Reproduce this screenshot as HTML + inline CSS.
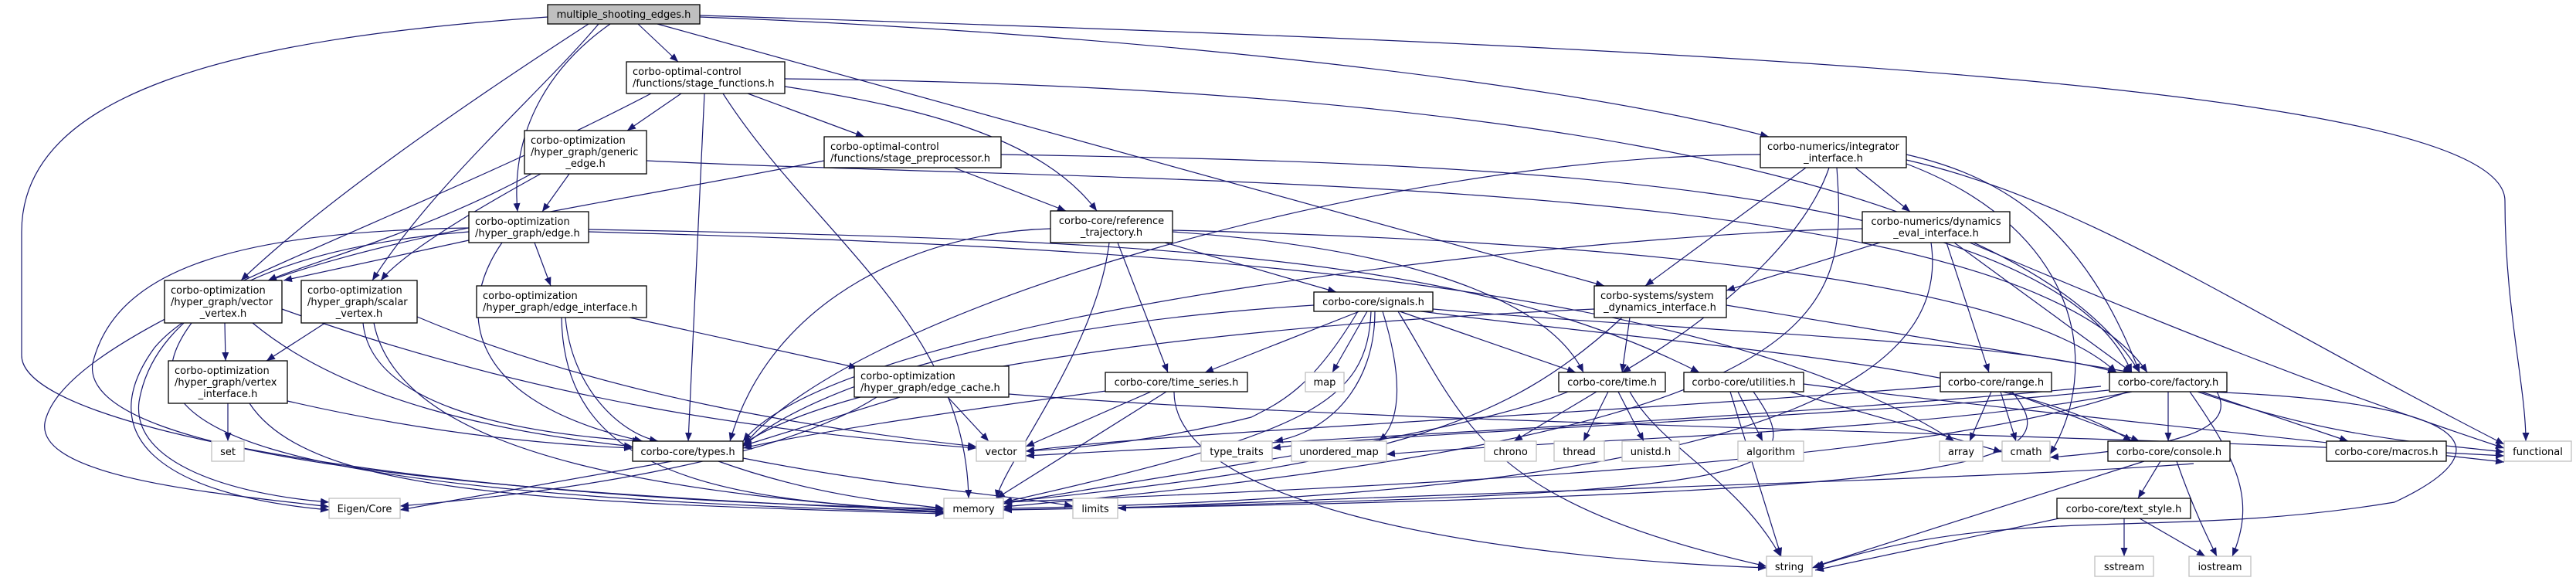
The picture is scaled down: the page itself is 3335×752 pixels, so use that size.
<!DOCTYPE html>
<html><head><meta charset="utf-8"><style>
html,body{margin:0;padding:0;background:#fff;}
svg{display:block;}
text{font-family:"DejaVu Sans","Liberation Sans",sans-serif;font-size:13px;fill:#000;}
.e{fill:none;stroke:#191970;stroke-width:1.2;marker-end:url(#a);}
.n{fill:#fff;stroke:#000;stroke-width:1.3;}
.s{fill:#fff;stroke:#bfbfbf;stroke-width:1.3;}
</style></head><body>
<svg width="3335" height="752" viewBox="0 0 3335 752" xmlns="http://www.w3.org/2000/svg">
<defs><marker id="a" markerUnits="userSpaceOnUse" markerWidth="12" markerHeight="10" refX="11" refY="4.5" orient="auto"><path d="M0,0 L11,4.5 L0,9 z" fill="#191970"/></marker></defs>
<g>
<path class="e" d="M826,31 L878,80"/>
<path class="e" d="M790,31 C720,80 660,160 670,274"/>
<path class="e" d="M762,31 C640,110 430,250 312,363"/>
<path class="e" d="M775,31 C700,120 560,240 482,363"/>
<path class="e" d="M709,22 C300,50 28,120 28,300 L28,460 C28,560 600,650 1222,658"/>
<path class="e" d="M851,31 L2077,370"/>
<path class="e" d="M906,22 C1400,40 2000,100 2290,177"/>
<path class="e" d="M906,20 C2200,60 3243,110 3243,260 C3243,400 3270,500 3270,571"/>
<path class="e" d="M882,121 L812,169"/>
<path class="e" d="M968,121 L1119,177"/>
<path class="e" d="M1016,112 C1200,140 1350,180 1420,273"/>
<path class="e" d="M912,121 L891,571"/>
<path class="e" d="M936,121 C1050,300 1250,420 1254,645"/>
<path class="e" d="M843,121 C500,300 100,420 60,540 C30,620 300,640 426,656"/>
<path class="e" d="M1016,102 C1800,110 2600,200 2770,482"/>
<path class="e" d="M737,225 L702,274"/>
<path class="e" d="M688,225 C550,300 400,340 347,363"/>
<path class="e" d="M700,225 C600,280 520,330 493,363"/>
<path class="e" d="M837,208 C1500,240 2600,220 2780,482"/>
<path class="e" d="M1235,217 L1380,273"/>
<path class="e" d="M1067,208 C700,280 300,330 200,450 C120,560 200,640 426,660"/>
<path class="e" d="M1296,200 C1900,210 2650,230 2760,482"/>
<path class="e" d="M692,314 L713,370"/>
<path class="e" d="M607,311 L367,363"/>
<path class="e" d="M607,295 C300,300 150,350 120,470 C100,600 700,640 1222,662"/>
<path class="e" d="M607,300 C350,320 200,400 180,520 C170,600 300,640 426,650"/>
<path class="e" d="M650,314 C590,400 600,520 832,571"/>
<path class="e" d="M762,297 C1500,310 1900,330 2200,482"/>
<path class="e" d="M762,300 C1500,320 2200,360 2530,571"/>
<path class="e" d="M291,418 L292,467"/>
<path class="e" d="M327,418 C450,520 650,560 819,578"/>
<path class="e" d="M248,418 C150,550 300,640 1222,663"/>
<path class="e" d="M365,400 C700,520 1000,560 1264,580"/>
<path class="e" d="M421,418 L345,467"/>
<path class="e" d="M470,418 C480,520 650,560 830,571"/>
<path class="e" d="M484,418 C520,600 900,640 1222,664"/>
<path class="e" d="M540,410 C800,520 1100,560 1264,578"/>
<path class="e" d="M295,522 L295,571"/>
<path class="e" d="M372,519 C550,560 700,575 819,580"/>
<path class="e" d="M323,522 C400,640 700,650 1222,665"/>
<path class="e" d="M732,411 C740,500 800,560 852,571"/>
<path class="e" d="M727,411 C730,600 900,650 1222,660"/>
<path class="e" d="M815,411 L1110,476"/>
<path class="e" d="M1165,514 L962,577"/>
<path class="e" d="M1227,514 L1280,571"/>
<path class="e" d="M1135,514 C1000,600 700,640 518,655"/>
<path class="e" d="M1306,510 C1800,550 2700,560 3242,590"/>
<path class="e" d="M1360,296 C1200,300 1000,380 945,571"/>
<path class="e" d="M1447,314 L1512,482"/>
<path class="e" d="M1436,314 C1420,450 1300,600 1290,645"/>
<path class="e" d="M1508,314 L1730,378"/>
<path class="e" d="M1518,300 C1800,320 2000,380 2050,482"/>
<path class="e" d="M1518,298 C2000,310 2600,350 2740,482"/>
<path class="e" d="M1760,403 L1560,482"/>
<path class="e" d="M1770,403 L1725,482"/>
<path class="e" d="M1758,403 C1700,500 1660,520 1620,540 C1500,570 1400,580 1328,584"/>
<path class="e" d="M1780,403 C1780,500 1720,560 1650,571"/>
<path class="e" d="M1790,403 C1820,500 1810,550 1785,571"/>
<path class="e" d="M1775,403 C1770,520 1700,560 1299,650"/>
<path class="e" d="M1810,403 C1900,550 1920,650 2287,733"/>
<path class="e" d="M1812,403 L2040,482"/>
<path class="e" d="M1701,395 C1300,420 1050,500 962,578"/>
<path class="e" d="M1855,400 C2200,430 2600,440 2740,482"/>
<path class="e" d="M1840,403 C2200,450 2600,470 2760,571"/>
<path class="e" d="M1490,507 L1328,578"/>
<path class="e" d="M1510,507 L1290,645"/>
<path class="e" d="M1440,505 C1250,530 1050,560 962,580"/>
<path class="e" d="M1520,507 C1520,650 1900,720 2287,735"/>
<path class="e" d="M2067,507 L1960,571"/>
<path class="e" d="M2082,507 L2050,571"/>
<path class="e" d="M2095,507 L2128,571"/>
<path class="e" d="M2110,507 C2150,580 2250,620 2305,720"/>
<path class="e" d="M2030,507 C1900,560 1600,600 1299,652"/>
<path class="e" d="M2110,411 L2100,482"/>
<path class="e" d="M2100,411 C1950,550 1800,600 1299,650"/>
<path class="e" d="M2235,395 L2760,482"/>
<path class="e" d="M2064,400 C1600,420 1100,480 962,575"/>
<path class="e" d="M2250,507 L2282,571"/>
<path class="e" d="M2270,507 C2350,620 2300,640 1299,660"/>
<path class="e" d="M2240,507 L2306,720"/>
<path class="e" d="M2310,505 L2592,585"/>
<path class="e" d="M2335,497 C2600,530 2900,560 3242,598"/>
<path class="e" d="M2402,217 L2473,274"/>
<path class="e" d="M2338,217 L2130,370"/>
<path class="e" d="M2368,217 C2340,300 2240,400 2100,482"/>
<path class="e" d="M2378,217 C2390,400 2400,560 1299,656"/>
<path class="e" d="M2279,200 C1800,200 1100,400 962,578"/>
<path class="e" d="M2468,200 C2600,230 2700,300 2770,482"/>
<path class="e" d="M2468,207 C2700,260 2900,400 3242,575"/>
<path class="e" d="M2468,212 C2700,300 2720,480 2654,588"/>
<path class="e" d="M2434,314 L2235,376"/>
<path class="e" d="M2520,314 L2575,482"/>
<path class="e" d="M2530,314 L2760,482"/>
<path class="e" d="M2550,314 C2800,420 3000,500 3242,580"/>
<path class="e" d="M2500,314 C2520,450 2400,640 1299,658"/>
<path class="e" d="M2411,296 C2100,300 1100,400 962,571"/>
<path class="e" d="M2578,507 L2550,571"/>
<path class="e" d="M2590,507 L2610,571"/>
<path class="e" d="M2600,507 L2770,571"/>
<path class="e" d="M2605,507 C2680,600 2600,640 1299,660"/>
<path class="e" d="M2512,500 C2000,540 1500,560 1328,584"/>
<path class="e" d="M2807,507 L2807,571"/>
<path class="e" d="M2850,507 L3040,571"/>
<path class="e" d="M2845,507 C3000,560 3100,570 3242,585"/>
<path class="e" d="M2835,507 C2900,600 2920,650 2890,720"/>
<path class="e" d="M2855,507 C3200,520 3250,580 3100,650 C2800,700 2600,650 2346,735"/>
<path class="e" d="M2755,507 C2500,600 1800,630 1299,650"/>
<path class="e" d="M2760,507 C2500,560 2000,570 1795,588"/>
<path class="e" d="M2730,505 C2400,540 1800,560 1647,580"/>
<path class="e" d="M2720,500 C2300,540 1700,570 1328,590"/>
<path class="e" d="M2870,507 C2900,560 2800,580 2654,592"/>
<path class="e" d="M2776,597 L2350,733"/>
<path class="e" d="M2797,597 L2768,645"/>
<path class="e" d="M2818,597 C2840,660 2860,700 2870,720"/>
<path class="e" d="M2750,671 L2750,720"/>
<path class="e" d="M2770,671 L2855,720"/>
<path class="e" d="M2680,668 L2350,738"/>
<path class="e" d="M870,597 L518,660"/>
<path class="e" d="M930,597 C1050,640 1150,650 1222,658"/>
<path class="e" d="M962,593 C1150,630 1300,640 1389,655"/>
<path class="e" d="M2840,600 C2600,620 1800,640 1447,658"/>
</g>
<g>
<rect x="709" y="6" width="197" height="25" fill="#bfbfbf" stroke="#000" stroke-width="1.3"/>
<text x="807.5" y="23" text-anchor="middle">multiple_shooting_edges.h</text>

<rect class="n" x="811" y="80" width="205" height="41"/>
<text x="819" y="97">corbo-optimal-control</text><text x="819" y="112">/functions/stage_functions.h</text>

<rect class="n" x="679" y="169" width="158" height="56"/>
<text x="687" y="186">corbo-optimization</text><text x="687" y="201">/hyper_graph/generic</text><text x="758" y="216" text-anchor="middle">_edge.h</text>

<rect class="n" x="1067" y="177" width="229" height="40"/>
<text x="1075" y="194">corbo-optimal-control</text><text x="1075" y="209">/functions/stage_preprocessor.h</text>

<rect class="n" x="607" y="274" width="155" height="40"/>
<text x="615" y="291">corbo-optimization</text><text x="615" y="306">/hyper_graph/edge.h</text>

<rect class="n" x="213" y="363" width="152" height="55"/>
<text x="221" y="380">corbo-optimization</text><text x="221" y="395">/hyper_graph/vector</text><text x="289" y="410" text-anchor="middle">_vertex.h</text>

<rect class="n" x="390" y="363" width="150" height="55"/>
<text x="398" y="380">corbo-optimization</text><text x="398" y="395">/hyper_graph/scalar</text><text x="465" y="410" text-anchor="middle">_vertex.h</text>

<rect class="n" x="617" y="370" width="220" height="41"/>
<text x="625" y="387">corbo-optimization</text><text x="625" y="402">/hyper_graph/edge_interface.h</text>

<rect class="n" x="218" y="467" width="154" height="55"/>
<text x="226" y="484">corbo-optimization</text><text x="226" y="499">/hyper_graph/vertex</text><text x="295" y="514" text-anchor="middle">_interface.h</text>

<rect class="s" x="274" y="571" width="42" height="26"/><text x="295" y="589" text-anchor="middle">set</text>
<rect class="n" x="819" y="571" width="143" height="26"/><text x="890.5" y="589" text-anchor="middle">corbo-core/types.h</text>
<rect class="s" x="426" y="645" width="92" height="26"/><text x="472" y="663" text-anchor="middle">Eigen/Core</text>

<rect class="n" x="1360" y="273" width="158" height="41"/>
<text x="1439" y="290" text-anchor="middle">corbo-core/reference</text><text x="1439" y="305" text-anchor="middle">_trajectory.h</text>

<rect class="n" x="2064" y="370" width="171" height="41"/>
<text x="2072" y="387">corbo-systems/system</text><text x="2149" y="402" text-anchor="middle">_dynamics_interface.h</text>

<rect class="n" x="1701" y="378" width="154" height="25"/><text x="1778" y="395" text-anchor="middle">corbo-core/signals.h</text>

<rect class="n" x="1106" y="474" width="200" height="40"/>
<text x="1114" y="491">corbo-optimization</text><text x="1114" y="506">/hyper_graph/edge_cache.h</text>

<rect class="n" x="1431" y="482" width="184" height="25"/><text x="1523" y="499" text-anchor="middle">corbo-core/time_series.h</text>
<rect class="s" x="1690" y="482" width="50" height="25"/><text x="1715" y="499" text-anchor="middle">map</text>
<rect class="n" x="2018" y="482" width="138" height="25"/><text x="2087" y="499" text-anchor="middle">corbo-core/time.h</text>
<rect class="n" x="2180" y="482" width="155" height="25"/><text x="2257.5" y="499" text-anchor="middle">corbo-core/utilities.h</text>

<rect class="s" x="1264" y="571" width="64" height="26"/><text x="1296" y="589" text-anchor="middle">vector</text>
<rect class="s" x="1555" y="571" width="92" height="26"/><text x="1601" y="589" text-anchor="middle">type_traits</text>
<rect class="s" x="1672" y="571" width="123" height="26"/><text x="1733.5" y="589" text-anchor="middle">unordered_map</text>
<rect class="s" x="1922" y="571" width="67" height="26"/><text x="1955.5" y="589" text-anchor="middle">chrono</text>
<rect class="s" x="2012" y="571" width="65" height="26"/><text x="2044.5" y="589" text-anchor="middle">thread</text>
<rect class="s" x="2100" y="571" width="74" height="26"/><text x="2137" y="589" text-anchor="middle">unistd.h</text>
<rect class="s" x="1222" y="645" width="77" height="26"/><text x="1260.5" y="663" text-anchor="middle">memory</text>
<rect class="s" x="1389" y="645" width="58" height="26"/><text x="1418" y="663" text-anchor="middle">limits</text>

<rect class="n" x="2279" y="177" width="189" height="40"/>
<text x="2373.5" y="194" text-anchor="middle">corbo-numerics/integrator</text><text x="2373.5" y="209" text-anchor="middle">_interface.h</text>

<rect class="n" x="2411" y="274" width="191" height="40"/>
<text x="2506.5" y="291" text-anchor="middle">corbo-numerics/dynamics</text><text x="2506.5" y="306" text-anchor="middle">_eval_interface.h</text>

<rect class="n" x="2512" y="482" width="144" height="25"/><text x="2584" y="499" text-anchor="middle">corbo-core/range.h</text>
<rect class="n" x="2731" y="482" width="152" height="25"/><text x="2807" y="499" text-anchor="middle">corbo-core/factory.h</text>
<rect class="s" x="2250" y="571" width="85" height="26"/><text x="2292.5" y="589" text-anchor="middle">algorithm</text>
<rect class="s" x="2511" y="571" width="56" height="26"/><text x="2539" y="589" text-anchor="middle">array</text>
<rect class="s" x="2592" y="571" width="62" height="26"/><text x="2623" y="589" text-anchor="middle">cmath</text>
<rect class="n" x="2729" y="571" width="158" height="26"/><text x="2808" y="589" text-anchor="middle">corbo-core/console.h</text>
<rect class="n" x="3012" y="571" width="155" height="26"/><text x="3089.5" y="589" text-anchor="middle">corbo-core/macros.h</text>
<rect class="s" x="3242" y="571" width="87" height="26"/><text x="3285.5" y="589" text-anchor="middle">functional</text>
<rect class="n" x="2663" y="645" width="173" height="26"/><text x="2749.5" y="663" text-anchor="middle">corbo-core/text_style.h</text>
<rect class="s" x="2287" y="720" width="59" height="26"/><text x="2316.5" y="738" text-anchor="middle">string</text>
<rect class="s" x="2712" y="720" width="76" height="26"/><text x="2750" y="738" text-anchor="middle">sstream</text>
<rect class="s" x="2834" y="720" width="80" height="26"/><text x="2874" y="738" text-anchor="middle">iostream</text>
</g>
</svg>
</body></html>
